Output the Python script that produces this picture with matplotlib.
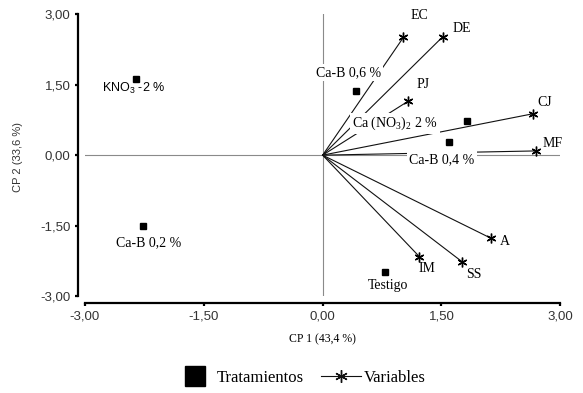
import matplotlib
matplotlib.use("Agg")
import matplotlib.pyplot as plt
from matplotlib.lines import Line2D

plt.rcParams['mathtext.default'] = 'regular'

# treatments (squares)
trat_names = ['KNO$_3$ -2 %', 'Ca-B 0,6 %', 'Ca (NO$_3$)$_2$ 2 %', 'Ca-B 0,4 %', 'Ca-B 0,2 %', 'Testigo']
trat_x = [-2.35, 0.42, 1.82, 1.59, -2.27, 0.79]
trat_y = [1.62, 1.37, 0.73, 0.29, -1.50, -2.48]

# variables (vectors)
var_names = ['EC', 'DE', 'PJ', 'CJ', 'MF', 'A', 'SS', 'IM']
var_x = [1.02, 1.515, 1.08, 2.65, 2.69, 2.125, 1.76, 1.22]
var_y = [2.51, 2.52, 1.15, 0.88, 0.09, -1.77, -2.27, -2.16]

ticks = [-3.0, -1.5, 0.0, 1.5, 3.0]
tick_labels = ['-3,00', '-1,50', '0,00', '1,50', '3,00']

# label offsets in points
trat_off = [(-2.3, -7), (-5.5, 13.2), (-52, -1.9), (-4.8, -13.2), (4.3, -12), (1.8, -10.3)]
trat_family = ['Liberation Sans', 'Liberation Serif', 'Liberation Serif',
               'Liberation Serif', 'Liberation Serif', 'Liberation Serif']
var_off = [(4.8, 16), (7.2, 6.3), (6, 12.2), (3.2, 8.1), (5, 5.5), (6.5, -2.4), (3.2, -8.9), (-0.2, -8.4)]

W, H = 583, 393
fig = plt.figure(figsize=(W / 100, H / 100), dpi=100)
ax = fig.add_axes([85 / W, 1 - 296 / H, 475.3 / W, 281.7 / H])

ax.plot([-3, 3], [0, 0], color='#8a8a8a', lw=0.8, zorder=1)
ax.plot([0, 0], [-3, 3], color='#8a8a8a', lw=0.8, zorder=1)

ast = (6, 2, 0)
for x, y in zip(var_x, var_y):
    ax.plot([0, x], [0, y], color='#111111', lw=0.8, zorder=2)
ax.plot(var_x, var_y, ls='none', marker=ast, ms=7, mew=1.0, color='k', zorder=4)

for name, x, y, off in zip(var_names, var_x, var_y, var_off):
    ax.annotate(name, (x, y), xytext=off, textcoords='offset points',
                ha='left', va='center', family='Liberation Serif', fontsize=10,
                zorder=5)

ax.plot(trat_x, trat_y, ls='none', marker='s', ms=5, color='k', zorder=4)
for name, x, y, off, fam in zip(trat_names, trat_x, trat_y, trat_off, trat_family):
    ax.annotate(name, (x, y), xytext=off, textcoords='offset points',
                ha='center', va='center', family=fam,
                fontsize=9 if fam == 'Liberation Sans' else 10,
                bbox=dict(boxstyle='square,pad=0.15', fc='white', ec='none'),
                zorder=3)

ax.set_xlim(-3, 3)
ax.set_ylim(-3, 3)
ax.set_xticks(ticks)
ax.set_xticklabels(tick_labels)
ax.set_yticks(ticks)
ax.set_yticklabels(tick_labels)
for s in ['top', 'right']:
    ax.spines[s].set_visible(False)
for s in ['left', 'bottom']:
    ax.spines[s].set_position(('outward', 5))
    ax.spines[s].set_linewidth(1.6)
ax.tick_params(direction='out', length=2.5, width=1.6, pad=3,
               labelsize=9.5, labelcolor='#333333')
for lab in ax.get_xticklabels() + ax.get_yticklabels():
    lab.set_family('Liberation Sans')

fig.text(322 / W, 1 - 339 / H, 'CP 1 (43,4 %)', ha='center', va='center',
         family='Liberation Serif', fontsize=8.5)
fig.text(18 / W, 1 - 157 / H, 'CP 2 (33,6 %)', ha='center', va='center',
         rotation=90, family='Liberation Sans', fontsize=8, color='#333333')

handles = [Line2D([], [], ls='none', marker='s', ms=14, color='k'),
           Line2D([], [], color='#111111', lw=0.8, marker=ast, ms=9, mew=1.0)]
fig.legend(handles, ['Tratamientos', 'Variables'], loc='center',
           bbox_to_anchor=(300 / W, 1 - 378 / H), ncol=2, frameon=False,
           prop={'family': 'Liberation Serif', 'size': 12},
           handlelength=2.4, handletextpad=0.15, columnspacing=1.0)

fig.savefig('out.png', dpi=100)
